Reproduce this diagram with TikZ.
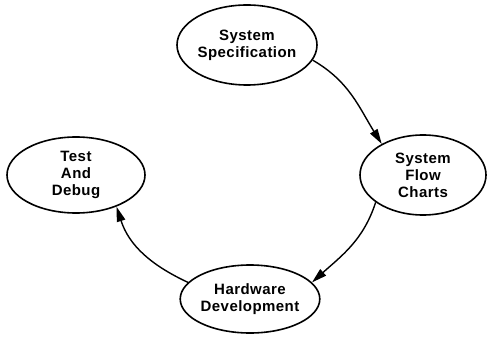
\documentclass[tikz,border=0pt]{standalone}
\usepackage{fontspec}
\setmainfont{Liberation Sans}
\newfontfamily\lblfont[LetterSpace=3]{Liberation Sans}
\usetikzlibrary{arrows.meta,shapes.geometric}
\begin{document}
\begin{tikzpicture}[x=1pt,y=-1pt,
  stage/.style={draw,ellipse,line width=1.6pt,inner sep=0pt,align=center,font=\lblfont\fontsize{15}{17}\selectfont\bfseries},
  flow/.style={line width=1.4pt,-{Triangle[length=15pt,width=8.5pt]}}]
\useasboundingbox (0,0) rectangle (489,339);
\node[stage,minimum width=140pt,minimum height=80pt] (spec) at (247,45) {System\\Specification};
\node[stage,minimum width=126pt,minimum height=80pt] (flowc) at (423,175) {System\\Flow\\Charts};
\node[stage,minimum width=136pt,minimum height=68pt] (hw) at (250,299) {Hardware\\Development};
\node[stage,minimum width=138pt,minimum height=76pt] (test) at (76,175) {Test\\And\\Debug};
\draw[flow] (spec.-13) to[out=-30,in=122] (flowc.143);
\draw[flow] (flowc.-150) to[out=-108,in=42] (hw.15);
\draw[flow] (hw.165) to[out=155,in=-72] (test.-38);
\end{tikzpicture}
\end{document}
